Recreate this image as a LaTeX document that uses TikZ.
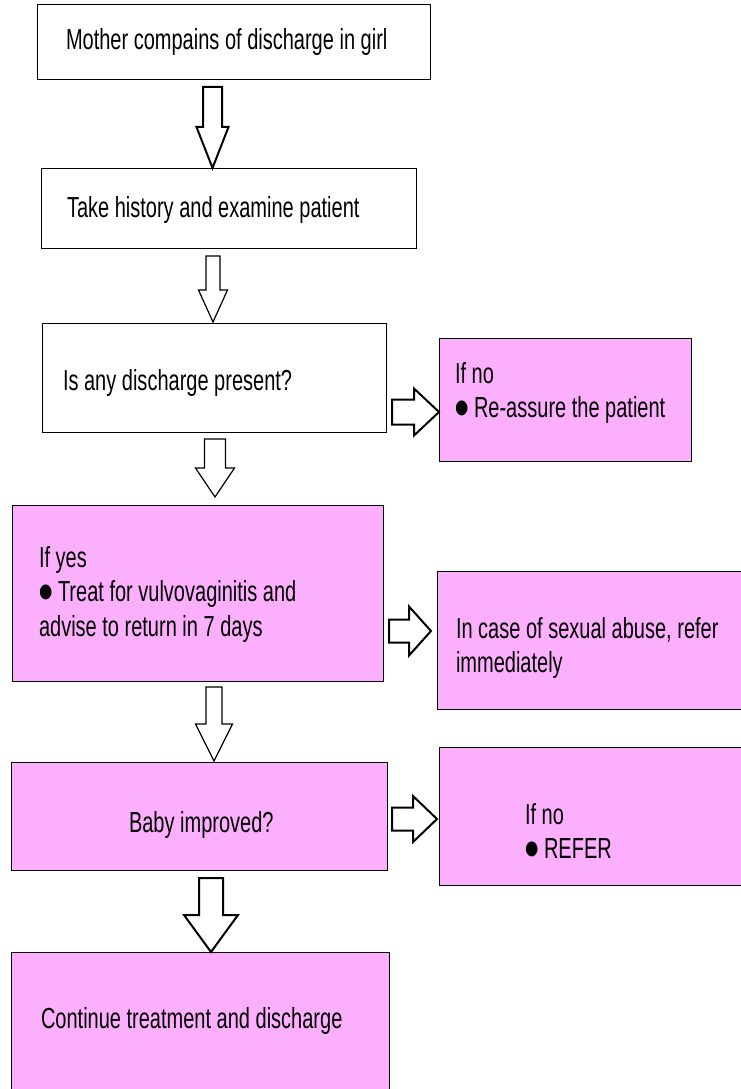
\documentclass[tikz,border=0pt]{standalone}
\usepackage{fontspec}
\setmainfont[FakeStretch=0.69]{Liberation Sans}
\newfontfamily\bulletfont{DejaVu Sans}
\usetikzlibrary{calc}
\definecolor{flowpink}{RGB}{252,175,252}
\tikzset{
  box/.style={draw=black, line width=1pt, anchor=north west, inner sep=0pt, outer sep=0pt},
  plainbox/.style={box, fill=white},
  pinkbox/.style={box, fill=flowpink},
  txt/.style={anchor=base west, inner sep=0pt, outer sep=0pt, font=\fontsize{29}{34.5}\selectfont},
  blk/.style={draw=black, fill=white, line width=1.2pt, line join=miter},
  blkthick/.style={blk, line width=2pt},
}
% bullet followed by a fixed gap
\newcommand{\bul}{\makebox[19pt][l]{\raisebox{3.5pt}{\scalebox{0.9}[1.15]{\bulletfont\fontsize{17}{17}\selectfont ●}}}}
% hollow block arrow pointing down: style, start, tip, shaft half-width, head half-width, head length
\newcommand{\downblock}[6]{%
  \draw[#1] ($(#2)+(-#4,0)$) -- ($(#3)+(-#4,-#6)$) -- ($(#3)+(-#5,-#6)$) -- (#3)
    -- ($(#3)+(#5,-#6)$) -- ($(#3)+(#4,-#6)$) -- ($(#2)+(#4,0)$) -- cycle;}
% hollow block arrow pointing right
\newcommand{\rightblock}[6]{%
  \draw[#1] ($(#2)+(0,-#4)$) -- ($(#3)+(-#6,-#4)$) -- ($(#3)+(-#6,-#5)$) -- (#3)
    -- ($(#3)+(-#6,#5)$) -- ($(#3)+(-#6,#4)$) -- ($(#2)+(0,#4)$) -- cycle;}
\begin{document}
\begin{tikzpicture}[x=1pt, y=-1pt]
\useasboundingbox (0,0) rectangle (741,1089);

% boxes
\node[plainbox, minimum width=393pt, minimum height=75pt]  (b1) at (37,5) {};
\node[plainbox, minimum width=375pt, minimum height=80pt]  (b2) at (41,168) {};
\node[plainbox, minimum width=344pt, minimum height=109pt] (b3) at (42,323) {};
\node[pinkbox,  minimum width=252pt, minimum height=123pt] (b4) at (439,338) {};
\node[pinkbox,  minimum width=371pt, minimum height=176pt] (b5) at (12,505) {};
\node[pinkbox,  minimum width=310pt, minimum height=138pt] (b6) at (437,571) {};
\node[pinkbox,  minimum width=376pt, minimum height=108pt] (b7) at (11,762) {};
\node[pinkbox,  minimum width=308pt, minimum height=138pt] (b8) at (439,747) {};
\node[pinkbox,  minimum width=378pt, minimum height=145pt] (b9) at (11,952) {};

% texts
\node[txt] (t1)  at (66,50)   {Mother compains of discharge in girl};
\node[txt] (t2)  at (67,217)  {Take history and examine patient};
\node[txt] (t3)  at (63,390)  {Is any discharge present?};
\node[txt] (t4a) at (455,383) {If no};
\node[txt] (t4b) at (455,417) {\bul Re-assure the patient};
\node[txt] (t5a) at (39,567)  {If yes};
\node[txt] (t5b) at (39,601)  {\bul Treat for vulvovaginitis and};
\node[txt] (t5c) at (39,636)  {advise to return in 7 days};
\node[txt] (t6a) at (456,638) {In case of sexual abuse, refer};
\node[txt] (t6b) at (456,672) {immediately};
\node[txt] (t7)  at (129,832) {Baby improved?};
\node[txt] (t8a) at (525,824) {If no};
\node[txt] (t8b) at (525,858) {\bul REFER};
\node[txt] (t9)  at (41,1028) {Continue treatment and discharge};

% arrow end points, tied to the boxes
\coordinate (a1s) at ($(b1.south west)+(175.5,7)$);
\coordinate (a1e) at ($(b2.north west)+(171.5,0)$);
\coordinate (a2s) at ($(b2.south west)+(172,8)$);
\coordinate (a2e) at ($(b3.north west)+(171,-1)$);
\coordinate (a3s) at ($(b3.north east)+(6,89)$);
\coordinate (a3e) at ($(b4.north west)+(0,74)$);
\coordinate (a4s) at ($(b3.south west)+(173,7)$);
\coordinate (a4e) at ($(b5.north west)+(203,-8)$);
\coordinate (a5s) at ($(b5.north east)+(6,126)$);
\coordinate (a5e) at ($(b6.north west)+(-6,60)$);
\coordinate (a6s) at ($(b5.south west)+(202,6)$);
\coordinate (a6e) at ($(b7.north west)+(203,-1)$);
\coordinate (a7s) at ($(b7.north east)+(5,57)$);
\coordinate (a7e) at ($(b8.north west)+(-2,72)$);
\coordinate (a8s) at ($(b7.south west)+(200,8)$);
\coordinate (a8e) at ($(b9.north west)+(200,0)$);

% block arrows
\downblock{blkthick}{a1s}{a1e}{9.5}{16}{41}
\downblock{blk}{a2s}{a2e}{7}{14.5}{32}
\rightblock{blkthick}{a3s}{a3e}{12.5}{23.5}{25}
\downblock{blk}{a4s}{a4e}{10.5}{19.5}{29}
\rightblock{blkthick}{a5s}{a5e}{11.5}{24.5}{22}
\downblock{blk}{a6s}{a6e}{8}{18.5}{37}
\rightblock{blkthick}{a7s}{a7e}{11.5}{23}{24}
\downblock{blkthick}{a8s}{a8e}{12}{27}{37}
\end{tikzpicture}
\end{document}
